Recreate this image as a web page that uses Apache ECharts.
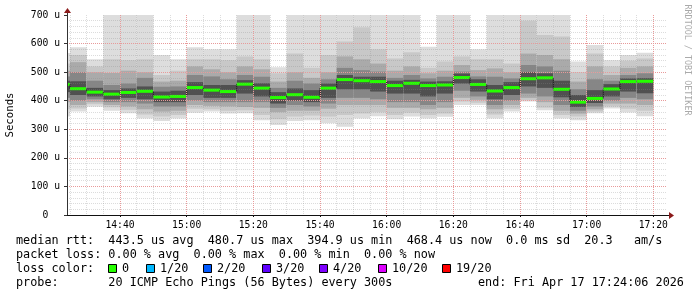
<!DOCTYPE html>
<html><head><meta charset="utf-8">
<script src="https://cdn.jsdelivr.net/npm/echarts@6/dist/echarts.min.js"></script>
<style>html,body{margin:0;padding:0;background:#fff}#c{width:697px;height:297px}</style>
</head><body><div id="c"></div>
<script>
// ---- data (microseconds), one entry per 5-minute column (end time) ----
const colEnd = ['14:25','14:30','14:35','14:40','14:45','14:50','14:55','15:00','15:05','15:10','15:15','15:20',
  '15:25','15:30','15:35','15:40','15:45','15:50','15:55','16:00','16:05','16:10','16:15','16:20',
  '16:25','16:30','16:35','16:40','16:45','16:50','16:55','17:00','17:05','17:10','17:15','17:20'];
const pMax = [567,587,545,700,700,700,560,545,587,580,580,700,700,517,700,700,700,700,700,700,700,700,589,700,700,580,700,700,700,700,700,537,595,542,560,568];
const pHi2 = [530,560,520,545,542,545,490,505,545,545,542,555,545,496,565,515,560,607,657,580,548,570,515,537,555,545,545,530,680,630,625,500,565,520,540,548];
const pHi3 = [505,535,500,497,505,500,467,470,520,510,500,520,510,467,500,480,500,555,545,530,505,520,496,505,525,507,513,500,565,560,545,467,520,490,515,520];
const pHi4 = [485,500,470,455,460,480,449,450,490,485,475,490,484,445,470,460,475,515,507,502,480,490,478,484,502,485,484,478,525,520,505,440,475,470,490,496];
const pHi5 = [470,468,445,437,443,450,432,435,465,455,455,472,461,430,443,437,460,490,484,484,470,473,467,468,495,475,455,465,500,496,470,420,437,458,478,479];
const pMed = [457,442,430,423,429,433,413,415,446,437,432,458,444,411,421,412,444,474,470,467,453,461,453,455,481,457,434,446,477,480,440,395,408,441,467,468];
const pLo5 = [430,420,415,405,410,405,395,395,420,410,410,425,415,390,400,395,410,440,440,432,425,425,415,425,460,432,405,420,450,445,412,378,392,415,432,426];
const pLo4 = [410,400,405,395,395,390,380,380,400,395,395,395,395,375,385,380,390,410,410,405,395,395,385,395,435,415,385,400,425,415,385,365,380,400,410,405];
const pLo3 = [395,385,395,385,380,370,362,365,385,382,380,378,375,360,365,365,372,385,385,385,375,375,370,375,410,403,370,385,410,395,365,355,370,390,390,385];
const pLo2 = [370,373,388,377,368,352,345,350,372,370,365,367,350,335,345,348,345,350,355,360,350,358,350,355,397,393,352,372,402,375,350,345,362,380,372,365];
const pMin = [345,362,379,365,356,338,329,338,358,362,355,356,332,315,329,332,321,309,338,346,335,345,338,344,385,385,338,362,397,367,338,332,356,373,359,346];
const yTicks = [0,100,200,300,400,500,600,700];
const lossLegend = [['0','#26ff00'],['1/20','#00b8ff'],['2/20','#0059ff'],['3/20','#5e00ff'],['4/20','#7e00ff'],['10/20','#dd00ff'],['19/20','#ff0000']];
const legendLines = [
  'median rtt:  443.5 us avg  480.7 us max  394.9 us min  468.4 us now  0.0 ms sd  20.3   am/s',
  'packet loss: 0.00 % avg  0.00 % max  0.00 % min  0.00 % now'
];
const probeText = 'probe:       20 ICMP Echo Pings (56 Bytes) every 300s';
const endText = 'end: Fri Apr 17 17:24:06 2026';

const toMin = s => { const [h, m] = s.split(':').map(Number); return h * 60 + m; };
const xMin = 14 * 60 + 24 + 6 / 60, xMax = 17 * 60 + 24 + 6 / 60;
const MONO = '"DejaVu Sans Mono", monospace';
const shades = ['#dddddd', '#c8c8c8', '#aaaaaa', '#868686', '#505050'];
const bands = [[pMax, pMin], [pHi2, pLo2], [pHi3, pLo3], [pHi4, pLo4], [pHi5, pLo5]];

const chart = echarts.init(document.getElementById('c'), null, {renderer: 'canvas'});
const minorLine = {show: true, lineStyle: {color: 'rgba(140,140,140,0.30)', width: 1, type: [1, 1]}};
const majorLine = {show: true, showMinLine: false, showMaxLine: false, lineStyle: {color: '#e89a9a', opacity: 1, width: 1, type: [1, 1]}};

function renderItem(params, api) {
  const i = params.dataIndex;
  const t = toMin(colEnd[i]);
  const cs = params.coordSys;
  const clipBox = {x: cs.x, y: cs.y, width: cs.width, height: cs.height};
  const x0 = api.coord([t - 5, 0])[0], x1 = api.coord([t, 0])[0];
  const children = [];
  const rectFor = (hi, lo) => {
    const yt = api.coord([t, hi])[1], yb = api.coord([t, lo])[1];
    return echarts.graphic.clipRectByRect({x: x0, y: yt, width: x1 - x0, height: yb - yt}, clipBox);
  };
  bands.forEach((b, k) => {
    const r = rectFor(b[0][i], b[1][i]);
    if (r) children.push({type: 'rect', shape: r, style: {fill: shades[k]}});
  });
  const ym = api.coord([t, pMed[i]])[1];
  const xs = Math.max(x0, cs.x);
  const pts = [];
  if (i > 0) pts.push([x0, api.coord([t, pMed[i - 1]])[1]]);
  pts.push([xs, ym], [x1, ym]);
  children.push({type: 'polyline', shape: {points: pts}, style: {stroke: '#1a1a1a', lineWidth: 1, fill: null}});
  const g = rectFor(pMed[i] + 5.3, pMed[i] - 5.3);
  if (g) children.push({type: 'rect', shape: g, style: {fill: '#26ff00'}});
  return {type: 'group', children};
}

const option = {
  animation: false,
  backgroundColor: '#ffffff',
  grid: {left: 67, top: 15, width: 600, height: 200, containLabel: false, outerBoundsMode: 'none'},
  xAxis: {
    type: 'value', min: xMin, max: xMax, minInterval: 20, maxInterval: 20, splitNumber: 9, z: 3,
    axisLine: {show: true, onZero: false, lineStyle: {color: '#111', width: 1}},
    axisTick: {show: true, length: 2, lineStyle: {color: '#111'}},
    minorTick: {show: false, splitNumber: 4},
    axisLabel: {
      show: true, showMinLabel: false, showMaxLabel: false, margin: 5, color: '#000',
      fontFamily: MONO, fontSize: 9.7,
      formatter: v => { const h = Math.floor(v / 60), m = Math.round(v % 60); return h + ':' + String(m).padStart(2, '0'); }
    },
    splitLine: majorLine,
    minorSplitLine: minorLine
  },
  yAxis: {
    type: 'value', min: yTicks[0], max: yTicks[yTicks.length - 1], interval: 100, z: 3,
    name: 'Seconds', nameLocation: 'middle', nameGap: 51, nameRotate: 90,
    nameTextStyle: {fontFamily: MONO, fontSize: 10.7, color: '#000'},
    axisLine: {show: true, onZero: false, lineStyle: {color: '#333', width: 1}},
    axisTick: {show: true, length: 3, lineStyle: {color: '#333'}},
    minorTick: {show: false, splitNumber: 5},
    axisLabel: {
      show: true, margin: 7, color: '#000', fontFamily: MONO, fontSize: 9.7,
      formatter: v => (v === 0 ? '0  ' : v + ' u')
    },
    splitLine: majorLine,
    minorSplitLine: minorLine
  },
  series: [{
    type: 'custom', z: 1, renderItem,
    encode: {x: 0, y: 1},
    data: colEnd.map((s, i) => [toMin(s), pMed[i]])
  }]
};
chart.setOption(option);

// decorations: axis arrows, watermark and the legend block
const tl = chart.convertToPixel({gridIndex: 0}, [xMin, yTicks[yTicks.length - 1]]);
const br = chart.convertToPixel({gridIndex: 0}, [xMax, 0]);
const gx = Math.round(tl[0]) + 0.5, gyTop = Math.round(tl[1]);
const gxr = Math.round(br[0]), gy = Math.round(br[1]) + 0.5;
const AR = '#8b1a1a';
const graphics = [
  {type: 'line', shape: {x1: gx, y1: gyTop, x2: gx, y2: gyTop - 4}, style: {stroke: '#333', lineWidth: 1}, z: 10},
  {type: 'polygon', shape: {points: [[gx, gyTop - 7], [gx - 3.5, gyTop - 2], [gx + 3.5, gyTop - 2]]}, style: {fill: AR}, z: 10},
  {type: 'line', shape: {x1: gxr, y1: gy, x2: gxr + 3, y2: gy}, style: {stroke: '#111', lineWidth: 1}, z: 10},
  {type: 'polygon', shape: {points: [[gxr + 7, gy], [gxr + 2, gy - 3.5], [gxr + 2, gy + 3.5]]}, style: {fill: AR}, z: 10},
  {type: 'text', x: 687, y: 60, rotation: -Math.PI / 2,
   style: {text: 'RRDTOOL / TOBI OETIKER', fontFamily: MONO, fontSize: 8.4, fill: '#aaaaaa', align: 'center', verticalAlign: 'middle'}},
  {type: 'text', x: 16, y: 241, style: {text: legendLines[0], fontFamily: MONO, fontSize: 11.8, fill: '#000', verticalAlign: 'middle'}},
  {type: 'text', x: 16, y: 255, style: {text: legendLines[1], fontFamily: MONO, fontSize: 11.8, fill: '#000', verticalAlign: 'middle'}},
  {type: 'text', x: 16, y: 269, style: {text: 'loss color:', fontFamily: MONO, fontSize: 11.8, fill: '#000', verticalAlign: 'middle'}},
  {type: 'text', x: 16, y: 283, style: {text: probeText, fontFamily: MONO, fontSize: 11.8, fill: '#000', verticalAlign: 'middle'}},
  {type: 'text', x: 478, y: 283, style: {text: endText, fontFamily: MONO, fontSize: 11.8, fill: '#000', verticalAlign: 'middle'}}
];
const boxX = [108, 146, 203, 262, 319, 378, 442];
lossLegend.forEach(([label, color], k) => {
  graphics.push({type: 'rect', shape: {x: boxX[k] + 0.5, y: 264.5, width: 8, height: 8}, style: {fill: color, stroke: '#000', lineWidth: 1}});
  graphics.push({type: 'text', x: boxX[k] + 14, y: 269, style: {text: label, fontFamily: MONO, fontSize: 11.8, fill: '#000', verticalAlign: 'middle'}});
});
chart.setOption({graphic: graphics});
</script></body></html>
